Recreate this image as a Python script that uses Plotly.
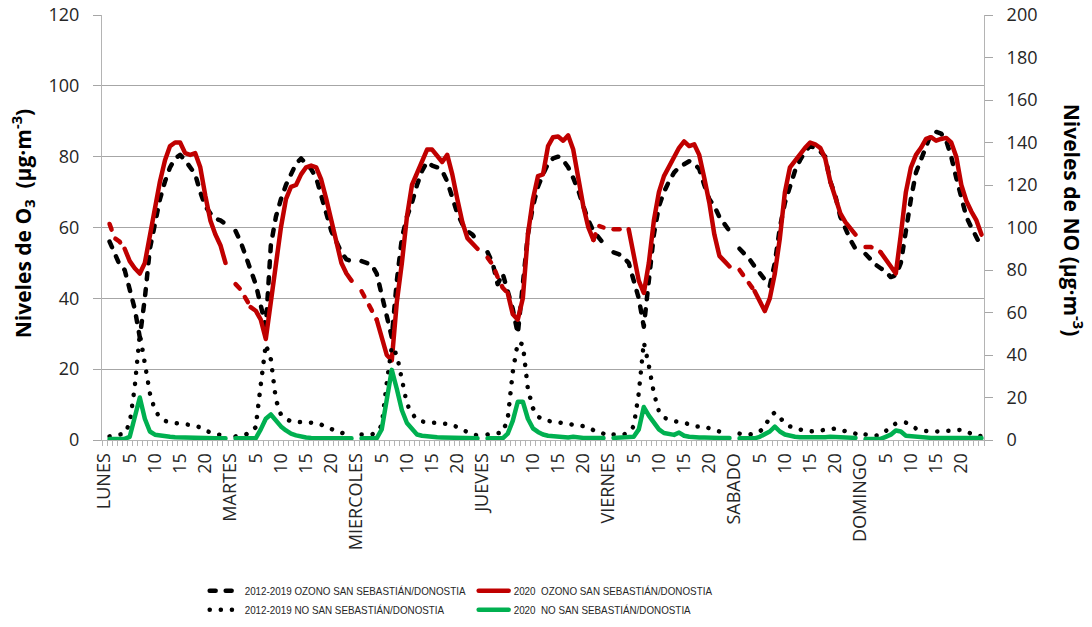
import plotly.graph_objects as go

# Weekday labels and intermediate hour labels on the x axis
DAYS = ["LUNES", "MARTES", "MIERCOLES", "JUEVES", "VIERNES", "SABADO", "DOMINGO"]
HOUR_TICKS = [5, 10, 15, 20]

# Hourly means (hours 1..24) for each weekday, O3 in µg/m3 (left axis)
O3_2012_2019 = [
    [56, 53, 49.5, 48, 43, 37, 29, 40, 54, 61, 68, 73, 77, 79.5, 80.5, 79, 77, 75, 70, 66, 64, 62.5, 62, 61],
    [59, 56, 52, 48, 44, 38, 32, 55, 63, 68, 72, 75, 78, 79.5, 78, 76.5, 74, 69, 63, 59, 56, 53, 51, 50.5],
    [50.5, 50, 49.5, 47, 41, 36, 29, 45, 57, 63, 67, 72, 76, 78.5, 77.5, 77, 76, 73, 68, 64, 61, 59, 58, 56],
    [53, 50, 44, 47, 42, 37, 30, 45, 58, 66, 71.5, 75, 78, 79.5, 80, 79, 77, 74, 70.5, 66, 62, 59, 57, 55.5],
    [53, 52.5, 51.5, 50, 45, 40, 32, 45, 58, 66, 70, 73, 75.5, 77, 78, 78.7, 78, 76.5, 72, 68, 66, 63, 61, 59],
    [54, 52.5, 51, 49, 47, 45, 43.5, 50, 60, 67, 72, 76, 79, 81.5, 83, 82.5, 81.5, 80, 73, 69, 63, 59.5, 56.5, 54],
    [52.5, 51, 49.5, 48.5, 47.5, 46, 46.5, 50, 60, 68, 75.5, 79, 83, 86.5, 87, 86.5, 84.5, 80, 74, 69, 63, 60, 57, 54.5],
]
O3_2020 = [
    [61, 57, 56, 54, 50.5, 48.5, 47, 50, 58, 66, 73, 79, 83, 84, 84, 81, 80.5, 81, 77, 69, 62, 58, 55, 50],
    [44, 42.5, 40, 37.5, 36.5, 34, 28.5, 39, 50, 60, 68, 71.5, 72, 75, 77, 77.5, 77, 73.5, 68, 62, 55, 50, 47, 45],
    [42, 39.5, 37, 34, 28.5, 24, 22.5, 39, 50, 63, 72, 75.5, 79, 82, 82, 80, 78.5, 80.5, 75, 68, 61.5, 57, 55.5, 54],
    [51.5, 49.5, 46, 43, 41.5, 35.5, 34, 40, 58, 68, 74.5, 75, 83, 85.5, 85.7, 84.5, 86, 82, 74, 66, 60, 56.5, 60.5, 60],
    [59.5, 59.5, 59.5, 59.5, 52, 45, 41.5, 50, 62, 70, 74.5, 77, 80, 82.5, 84.3, 83, 83.5, 80.5, 74, 67, 58, 52, 50.5, 49],
    [48, 46, 44, 42, 39, 36.4, 40, 47, 57, 70, 77, 79, 80.5, 82.5, 84, 83.5, 82.5, 79.5, 73, 68, 64, 61.5, 59.5, 58],
    [54.5, 54.5, 54, 53, 51, 49, 47, 58, 70, 77, 80.5, 82.5, 85, 85.5, 84.5, 85, 85.3, 84, 80, 72, 67.5, 64.5, 62, 58],
]

# Hourly means (hours 1..24) for each weekday, NO in µg/m3 (right axis)
NO_2012_2019 = [
    [1.7, 2, 2.5, 3, 8, 25, 50, 37, 22, 14, 10.6, 9, 8.2, 8, 7.8, 7.5, 7.3, 6.8, 5.9, 4.5, 3.5, 2.8, 2.3, 2],
    [1.7, 2, 2.6, 3.5, 6, 26, 45, 38, 19, 12, 10, 8.7, 8.5, 8.2, 8.2, 8.2, 8, 7.2, 6.4, 5.2, 4, 3.3, 2.8, 2.5],
    [2.6, 2.6, 2.6, 3.5, 7, 27, 44, 40, 29, 17, 12.5, 9.6, 8.8, 8.2, 8.2, 8.2, 7.8, 7.5, 7.3, 6, 4.9, 3.8, 2.6, 2.2],
    [2.6, 2.8, 3, 3.5, 10, 32, 46, 45, 24, 15, 11, 9.6, 9, 8.7, 8.4, 8.2, 7.8, 7.5, 7, 6.5, 5.8, 4.5, 3.5, 3],
    [2.6, 2.6, 2.6, 3.5, 6.5, 22, 46, 35, 22, 13.5, 10.6, 9.5, 8.7, 8.4, 8.2, 7.3, 6.4, 6.4, 6.4, 5.5, 4.5, 4, 3.5, 3],
    [3, 2.8, 2.6, 3, 4, 6, 11, 13, 10.5, 8, 6.4, 5.5, 4.9, 4.5, 4, 4.2, 4.5, 4.8, 5.2, 5.4, 4.7, 4, 3.5, 3],
    [2.6, 2.3, 2, 2.5, 4, 6, 7.8, 8, 8.2, 7, 5.4, 4.5, 4, 4, 4, 4, 4, 4.2, 4.5, 4.9, 4, 2.6, 2, 1.8],
]
NO_2020 = [
    [0.5, 0.5, 0.5, 0.5, 1.5, 10, 20, 10, 4, 2.5, 2, 1.7, 1.5, 1.3, 1.2, 1, 0.8, 0.8, 0.8, 0.8, 0.8, 0.8, 0.8, 0.8],
    [0.8, 0.8, 0.8, 0.8, 0.8, 5, 10, 12, 9, 6.4, 4.5, 3, 2.2, 1.6, 1.2, 1, 1, 1, 1, 1, 0.8, 0.8, 0.8, 0.8],
    [0.8, 0.8, 0.8, 0.8, 5, 20, 33, 24, 14, 8, 5, 2.6, 2, 1.6, 1.4, 1.3, 1.2, 1.2, 1.2, 1, 1, 1, 0.8, 0.8],
    [0.8, 0.8, 0.8, 0.8, 3, 9, 18, 18, 10, 5.5, 3.8, 2.6, 2, 1.8, 1.5, 1.8, 1.2, 1.5, 1, 1, 1, 1, 1, 1],
    [1, 1, 1, 1, 1.5, 5, 15.5, 11.5, 8, 5, 3.3, 2.6, 2.4, 3.5, 2, 1.5, 1.2, 1.2, 1.2, 1, 1, 1, 1, 1],
    [0.8, 0.8, 0.8, 0.8, 1.5, 2.5, 4, 6.3, 4, 2.6, 1.8, 1.5, 1.3, 1.2, 1.2, 1.2, 1.2, 1.3, 1.5, 1.3, 1.2, 1.2, 1, 1],
    [0.5, 0.5, 0.5, 0.5, 1.5, 2.5, 4.5, 4, 2, 1.7, 1.4, 1.2, 1, 1, 1, 1, 1, 1, 1, 1, 1, 1, 1, 1],
]

# Night stretches of the 2020 ozone curve that are drawn dashed (hour ranges per day)
RED_DASHED_SPANS = {0: [(1, 4)], 1: [(1, 4)], 2: [(1, 4)], 3: [(1, 5), (22, 24)],
                    4: [(1, 4)], 5: [(1, 4)], 6: [(1, 4)]}

SLOTS = 25  # one label slot + 24 hours per day
N = SLOTS * len(DAYS)
x_all = list(range(N))


def flatten(days_values):
    out = []
    for vals in days_values:
        out.append(None)
        out.extend(vals)
    return out


def seg_dashed(d, h):
    return any(a <= h and h + 1 <= b for a, b in RED_DASHED_SPANS[d])


def in_span(d, h):
    return any(a <= h <= b for a, b in RED_DASHED_SPANS[d])


red_solid, red_dash = [], []
for d, vals in enumerate(O3_2020):
    red_solid.append(None)
    red_dash.append(None)
    for h, v in enumerate(vals, start=1):
        solid = (h > 1 and not seg_dashed(d, h - 1)) or (h < 24 and not seg_dashed(d, h))
        red_solid.append(v if solid else None)
        red_dash.append(v if in_span(d, h) else None)

BLACK, RED, GREEN = "#000000", "#c00000", "#00b050"
GRID, AXIS = "#a6a6a6", "#b4b4b4"
TXT = "#262626"
FONT = "Open Sans"

# Legend groups form the two legend columns (historical / 2020)
fig = go.Figure()
fig.add_trace(go.Scatter(x=x_all, y=flatten(O3_2012_2019), mode="lines",
                         name="2012-2019 OZONO SAN SEBASTIÁN/DONOSTIA", legendgroup="hist",
                         line=dict(color=BLACK, width=4.5, dash="6px,10px"), connectgaps=False))
fig.add_trace(go.Scatter(x=x_all, y=flatten(NO_2012_2019), mode="lines", yaxis="y2",
                         name="2012-2019 NO SAN SEBASTIÁN/DONOSTIA", legendgroup="hist",
                         line=dict(color=BLACK, width=4.5, dash="0.1px,11px"), connectgaps=False))
fig.add_trace(go.Scatter(x=x_all, y=red_solid, mode="lines",
                         name="2020\u00a0 OZONO SAN SEBASTIÁN/DONOSTIA", legendgroup="y2020",
                         line=dict(color=RED, width=4.5), connectgaps=False))
fig.add_trace(go.Scatter(x=x_all, y=red_dash, mode="lines", showlegend=False, legendgroup="y2020",
                         line=dict(color=RED, width=4.5, dash="6px,10px"), connectgaps=False))
fig.add_trace(go.Scatter(x=x_all, y=flatten(NO_2020), mode="lines", yaxis="y2",
                         name="2020\u00a0 NO SAN SEBASTIÁN/DONOSTIA", legendgroup="y2020",
                         line=dict(color=GREEN, width=4.5), connectgaps=False))

# Draw the NO curves above the ozone curves
fig.data = (fig.data[0], fig.data[2], fig.data[3], fig.data[1], fig.data[4])

tickvals, ticktext = [], []
for d, name in enumerate(DAYS):
    tickvals.append(SLOTS * d)
    ticktext.append(name)
    for h in HOUR_TICKS:
        tickvals.append(SLOTS * d + h)
        ticktext.append(str(h))

fig.update_layout(
    width=1092, height=627,
    margin=dict(l=102, r=108, t=15, b=186.5, autoexpand=False),
    paper_bgcolor="white", plot_bgcolor="white",
    xaxis=dict(range=[-0.5, N - 0.5], tickmode="array", tickvals=tickvals, ticktext=ticktext,
               tickangle=-90, ticks="", showline=True, linecolor=AXIS, linewidth=1,
               showgrid=False, zeroline=False, ticklabelstandoff=5,
               tickfont=dict(family=FONT, size=18, color=TXT),
               minor=dict(tickmode="array", tickvals=[k - 0.5 for k in range(N + 1)],
                          ticks="outside", ticklen=5, tickcolor=AXIS, showgrid=False)),
    yaxis=dict(range=[0, 120], dtick=20, showgrid=True, gridcolor=GRID, gridwidth=1,
               showline=True, linecolor=AXIS, zeroline=False, ticks="outside", ticklen=8,
               tickcolor=GRID, ticklabelstandoff=10,
               tickfont=dict(family=FONT, size=18, color=TXT)),
    yaxis2=dict(range=[0, 200], dtick=20, overlaying="y", side="right", showgrid=False,
                showline=True, linecolor=AXIS, zeroline=False, ticks="outside", ticklen=8,
                tickcolor=GRID, ticklabelstandoff=10,
                tickfont=dict(family=FONT, size=18, color=TXT)),
    legend=dict(orientation="h", traceorder="grouped", x=0.1164, y=-0.3772,
                xanchor="left", yanchor="middle", entrywidth=224, entrywidthmode="pixels",
                tracegroupgap=0,
                font=dict(family="Liberation Sans, Arial, sans-serif", size=11.5, color=TXT),
                bgcolor="rgba(0,0,0,0)", borderwidth=0),
    annotations=[
        dict(text="<b>Niveles de O<sub>3</sub>  (µg·m<sup>-3</sup>)</b>", xref="paper", yref="paper",
             x=-0.0907, y=0.5076, xanchor="center", yanchor="middle", textangle=-90,
             showarrow=False, font=dict(family=FONT, size=21, color="#000000")),
        dict(text="<b>Niveles de NO (µg·m<sup>-3</sup>)</b>", xref="paper", yref="paper",
             x=1.1009, y=0.516, xanchor="center", yanchor="middle", textangle=90,
             showarrow=False, font=dict(family=FONT, size=21, color="#000000")),
    ],
)

# Rounded line ends for dashes/dots, and slightly condensed legend labels.
# Re-applied whenever the plot's DOM changes, since the legend can be re-rendered.
post = """
var gd = document.getElementById('{plot_id}');
function tidy() {
  gd.querySelectorAll('path.js-line').forEach(function (p) {
    if (p.style.strokeLinecap !== 'round') {
      p.style.strokeLinecap = 'round';
      p.style.strokeLinejoin = 'round';
    }
  });
  gd.querySelectorAll('text.legendtext').forEach(function (t) {
    if (t.getAttribute('data-src') === t.textContent) return;
    t.removeAttribute('textLength');
    t.removeAttribute('lengthAdjust');
    var w = t.getComputedTextLength();
    if (w > 0) {
      t.setAttribute('data-src', t.textContent);
      t.setAttribute('textLength', (w * 0.855).toFixed(1));
      t.setAttribute('lengthAdjust', 'spacingAndGlyphs');
    }
  });
}
tidy();
new MutationObserver(tidy).observe(gd, {subtree: true, childList: true, attributes: true, characterData: true});
gd.on('plotly_afterplot', tidy);
"""

fig.write_html("out.html", post_script=post)
